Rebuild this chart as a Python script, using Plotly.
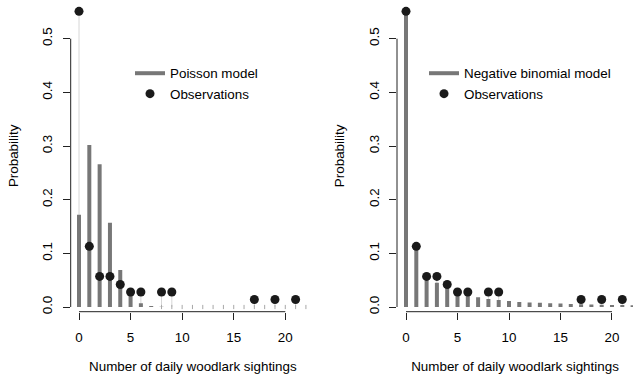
import plotly.graph_objects as go

# ---------------- data ----------------
counts = list(range(23))  # number of daily sightings 0..22
obs_x = [0, 1, 2, 3, 4, 5, 6, 8, 9, 17, 19, 21]
obs_p = [0.551, 0.113, 0.057, 0.057, 0.042, 0.028, 0.028, 0.028, 0.028, 0.014, 0.014, 0.014]
poisson_p = [0.172, 0.302, 0.266, 0.157, 0.069, 0.024, 0.007, 0.0018,
             0.0004, 0.00008, 0.000014, 0.000002, 0.0, 0.0, 0.0, 0.0,
             0.0, 0.0, 0.0, 0.0, 0.0, 0.0, 0.0]
negbin_p = [0.549, 0.113, 0.058, 0.045, 0.036, 0.028, 0.023, 0.018,
            0.015, 0.013, 0.011, 0.0095, 0.0085, 0.0077, 0.0070, 0.0063,
            0.0057, 0.0052, 0.0047, 0.0043, 0.0039, 0.0036, 0.0033]
yticks = [0, 0.1, 0.2, 0.3, 0.4, 0.5]
ytick_text = ["0.0", "0.1", "0.2", "0.3", "0.4", "0.5"]
xticks = [0, 5, 10, 15, 20]
xtitle = "Number of daily woodlark sightings"
ytitle = "Probability"

# ---------------- style ----------------
W, H = 633, 378
FONT = "Liberation Sans, Arial, Helvetica, sans-serif"
FS = 13.4
BAR_COL = "#777777"
STEM_COL = "#d6d6d6"
DOT_COL = "#1a1a1a"
AX_COL = "#222222"


def stems(xs, ys):
    sx, sy = [], []
    for x, y in zip(xs, ys):
        sx += [x, x, None]
        sy += [0, y, None]
    return sx, sy


def px_x(p):
    return p / W


def px_y(p):
    return 1 - p / H


fig = go.Figure()

panels = [
    dict(xa="x", ya="y", model=poisson_p, name="Poisson model", legend="legend"),
    dict(xa="x2", ya="y2", model=negbin_p, name="Negative binomial model", legend="legend2"),
]

for pn in panels:
    sx, sy = stems(obs_x, obs_p)
    fig.add_trace(go.Scatter(x=sx, y=sy, mode="lines", xaxis=pn["xa"], yaxis=pn["ya"],
                             line=dict(color=STEM_COL, width=1), showlegend=False,
                             hoverinfo="skip"))
    mx, my = stems(counts, pn["model"])
    fig.add_trace(go.Scatter(x=mx, y=my, mode="lines", xaxis=pn["xa"], yaxis=pn["ya"],
                             line=dict(color=BAR_COL, width=4), name=pn["name"],
                             legend=pn["legend"]))
    # zero-height model bars render as tiny ticks at the baseline
    zx = [c for c, v in zip(counts, pn["model"]) if v < 0.001]
    if zx:
        fig.add_trace(go.Scatter(x=zx, y=[0] * len(zx), mode="markers",
                                 xaxis=pn["xa"], yaxis=pn["ya"],
                                 marker=dict(symbol="line-ns", size=3,
                                             line=dict(color="#a8a8a8", width=1)),
                                 showlegend=False, hoverinfo="skip"))
    fig.add_trace(go.Scatter(x=obs_x, y=obs_p, mode="markers", xaxis=pn["xa"], yaxis=pn["ya"],
                             marker=dict(color=DOT_COL, size=9), name="Observations",
                             legend=pn["legend"], cliponaxis=False))

ydom = [px_y(311.7), 1.0]
yrange = [-0.00876, 0.5721]

common_y = dict(domain=ydom, range=yrange, tickvals=yticks, ticktext=ytick_text,
                showline=False, showgrid=False, zeroline=False, ticks="outside",
                ticklen=7, tickwidth=1, tickcolor=AX_COL, tickangle=-90,
                tickfont=dict(size=FS, color="black", family=FONT),
                ticklabelstandoff=5, automargin=False,
                title=dict(text=ytitle, font=dict(size=FS, color="black", family=FONT),
                           standoff=18))
common_x = dict(tickvals=xticks, showline=False, showgrid=False, zeroline=False,
                ticks="outside", ticklen=7, tickwidth=1, tickcolor=AX_COL,
                tickfont=dict(size=FS, color="black", family=FONT),
                ticklabelstandoff=6, automargin=False,
                title=dict(text=xtitle, font=dict(size=FS, color="black", family=FONT),
                           standoff=17))

fig.update_layout(
    width=W, height=H, margin=dict(l=0, r=0, t=0, b=0),
    paper_bgcolor="white", plot_bgcolor="white",
    font=dict(family=FONT, size=FS, color="black"),
    xaxis=dict(domain=[px_x(70.7), px_x(315)], range=[-0.805, 22.88], anchor="y", **common_x),
    yaxis=dict(anchor="x", **common_y),
    xaxis2=dict(domain=[px_x(397), 1.0], range=[-0.874, 22.04], anchor="y2", **common_x),
    yaxis2=dict(anchor="x2", **common_y),
    legend=dict(x=px_x(130), y=px_y(58), xanchor="left", yanchor="top",
                bgcolor="rgba(0,0,0,0)", font=dict(size=FS, family=FONT),
                traceorder="normal"),
    legend2=dict(x=px_x(424), y=px_y(58), xanchor="left", yanchor="top",
                 bgcolor="rgba(0,0,0,0)", font=dict(size=FS, family=FONT),
                 traceorder="normal"),
    showlegend=True,
)

# R-style axis lines spanning only the tick range
for xa, ya, xdom in [("x", "y", px_x(70.7)), ("x2", "y2", px_x(397))]:
    fig.add_shape(type="line", xref=xa, yref="paper", x0=xticks[0], x1=xticks[-1],
                  y0=ydom[0], y1=ydom[0], line=dict(color=AX_COL, width=1))
    fig.add_shape(type="line", xref="paper", yref=ya, x0=xdom, x1=xdom,
                  y0=yticks[0], y1=yticks[-1], line=dict(color=AX_COL, width=1))

fig.write_html("out.html")
